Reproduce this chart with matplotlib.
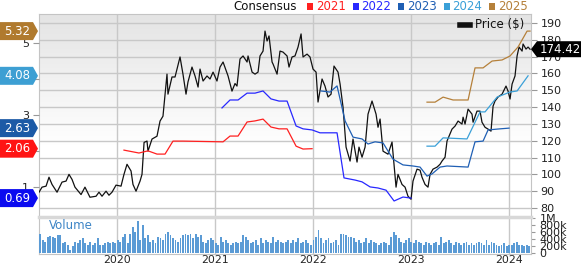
import numpy as np
import matplotlib
matplotlib.use('Agg')
import matplotlib.pyplot as plt
from matplotlib.patches import Polygon
from matplotlib.lines import Line2D
from matplotlib.colors import LinearSegmentedColormap

# Price data (decimal years, $)
PRICE_T = [2019.204, 2019.235, 2019.276, 2019.306, 2019.337, 2019.388, 2019.439, 2019.480, 2019.510, 2019.541,
           2019.571, 2019.633, 2019.673, 2019.724, 2019.786, 2019.816, 2019.847, 2019.888, 2019.918, 2019.949,
           2019.990, 2020.041, 2020.071, 2020.102, 2020.143, 2020.163, 2020.194, 2020.235, 2020.255, 2020.276,
           2020.306, 2020.316, 2020.357, 2020.408, 2020.439, 2020.469, 2020.510, 2020.520, 2020.561, 2020.592,
           2020.643, 2020.673, 2020.704, 2020.724, 2020.765, 2020.796, 2020.827, 2020.847, 2020.878, 2020.918,
           2020.949, 2020.980, 2021.020, 2021.051, 2021.082, 2021.133, 2021.173, 2021.204, 2021.224, 2021.255,
           2021.286, 2021.327, 2021.337, 2021.378, 2021.408, 2021.439, 2021.459, 2021.490, 2021.510, 2021.531,
           2021.551, 2021.582, 2021.592, 2021.633, 2021.663, 2021.694, 2021.735, 2021.755, 2021.786, 2021.816,
           2021.847, 2021.878, 2021.898, 2021.939, 2021.969, 2022.000, 2022.031, 2022.051, 2022.092, 2022.122,
           2022.153, 2022.184, 2022.214, 2022.255, 2022.276, 2022.306, 2022.337, 2022.378, 2022.408, 2022.449,
           2022.469, 2022.500, 2022.531, 2022.561, 2022.602, 2022.643, 2022.663, 2022.684, 2022.714, 2022.765,
           2022.806, 2022.847, 2022.867, 2022.908, 2022.939, 2022.969, 2023.000, 2023.020, 2023.061, 2023.092,
           2023.112, 2023.143, 2023.173, 2023.194, 2023.224, 2023.265, 2023.296, 2023.316, 2023.347, 2023.367,
           2023.418, 2023.449, 2023.480, 2023.520, 2023.531, 2023.551, 2023.582, 2023.622, 2023.633, 2023.673,
           2023.704, 2023.724, 2023.755, 2023.786, 2023.816, 2023.837, 2023.857, 2023.888, 2023.929, 2023.969,
           2023.990, 2024.010, 2024.031, 2024.061, 2024.082, 2024.102, 2024.133, 2024.143, 2024.173, 2024.194,
           2024.214]
PRICE = [89.4, 92.4, 93.0, 98.3, 94.0, 89.4, 95.4, 96.0, 100.0, 97.0,
         92.4, 88.0, 92.4, 86.4, 87.0, 89.4, 87.0, 90.0, 87.6, 89.4,
         93.6, 93.0, 100.0, 106.0, 102.0, 94.0, 90.0, 96.0, 100.0, 119.0,
         119.8, 113.8, 121.0, 122.7, 131.7, 134.6, 159.6, 147.7, 157.9, 157.9,
         169.8, 159.6, 147.7, 154.9, 163.8, 158.5, 151.9, 162.6, 155.5, 158.5,
         156.7, 160.8, 155.5, 163.8, 166.8, 158.5, 149.5, 154.0, 152.5, 168.6,
         170.4, 166.8, 170.4, 160.8, 159.6, 160.8, 170.4, 173.3, 185.2, 179.3,
         182.3, 166.8, 165.6, 159.6, 173.3, 172.7, 170.4, 163.8, 169.8, 170.4,
         175.7, 183.5, 169.8, 171.5, 169.8, 162.6, 160.8, 143.0, 156.7, 152.5,
         146.0, 147.7, 164.4, 160.8, 153.7, 140.0, 116.2, 107.9, 121.0, 107.3,
         116.2, 110.2, 116.2, 135.8, 143.6, 135.8, 128.0, 132.9, 113.8, 112.0,
         119.2, 92.4, 100.0, 94.0, 92.4, 87.0, 85.2, 96.0, 103.1, 102.5,
         98.3, 94.0, 92.4, 100.0, 103.1, 104.3, 106.0, 107.9, 110.2, 119.8,
         126.9, 128.7, 131.7, 129.9, 134.0, 129.9, 138.8, 135.8, 131.0, 137.6,
         137.6, 131.0, 128.0, 126.9, 125.7, 140.6, 143.6, 146.0, 147.7, 152.5,
         149.5, 144.8, 153.7, 158.5, 170.4, 175.7, 173.3, 177.5, 174.5, 175.7,
         174.42]

# Consensus EPS estimates per fiscal year
EPS_2021_T = [2020.071, 2020.224, 2020.316, 2020.408, 2020.490, 2020.571, 2020.673, 2021.082, 2021.153, 2021.235,
              2021.327, 2021.408, 2021.490, 2021.571, 2021.653, 2021.735, 2021.827, 2021.898, 2021.990]
EPS_2021 = [2.02, 1.94, 2.00, 1.91, 1.91, 2.27, 2.27, 2.25, 2.41, 2.41,
            2.80, 2.83, 2.88, 2.66, 2.61, 2.61, 2.13, 2.05, 2.06]
EPS_2022_T = [2021.071, 2021.153, 2021.235, 2021.327, 2021.408, 2021.490, 2021.571, 2021.653, 2021.735, 2021.827,
              2021.898, 2021.990, 2022.071, 2022.245, 2022.316, 2022.429, 2022.500, 2022.582, 2022.663, 2022.745,
              2022.827, 2022.918, 2023.000]
EPS_2022 = [3.19, 3.41, 3.41, 3.60, 3.60, 3.66, 3.44, 3.38, 3.38, 2.69,
            2.61, 2.58, 2.50, 2.50, 1.25, 1.19, 1.14, 1.00, 0.97, 0.91,
            0.61, 0.72, 0.69]
EPS_2023_T = [2022.082, 2022.173, 2022.245, 2022.327, 2022.408, 2022.500, 2022.561, 2022.633, 2022.714, 2022.816,
              2022.918, 2023.020, 2023.092, 2023.163, 2023.214, 2023.296, 2023.367, 2023.582, 2023.653, 2023.735,
              2023.786, 2023.908, 2024.000]
EPS_2023 = [3.66, 3.63, 3.80, 2.83, 2.38, 2.33, 2.19, 2.25, 2.22, 1.77,
            1.61, 1.58, 1.55, 1.30, 1.36, 1.55, 1.58, 1.55, 2.25, 2.27,
            2.58, 2.61, 2.63]
EPS_2024_T = [2023.163, 2023.245, 2023.327, 2023.571, 2023.704, 2023.755, 2023.878, 2024.010, 2024.082, 2024.194]
EPS_2024 = [2.13, 2.13, 2.36, 2.33, 3.08, 3.08, 3.49, 3.63, 3.66, 4.08]
EPS_2025_T = [2023.163, 2023.245, 2023.327, 2023.429, 2023.582, 2023.653, 2023.735, 2023.827, 2023.929, 2024.010,
              2024.092, 2024.184, 2024.214]
EPS_2025 = [3.35, 3.35, 3.49, 3.41, 3.41, 4.30, 4.30, 4.49, 4.52, 4.63,
            4.88, 5.32, 5.32]

YEARS = ['2021', '2022', '2023', '2024', '2025']
YEAR_COLORS = ['#ff2020', '#2828ff', '#1f5fb4', '#3aa0d8', '#b5803a']
BADGE_COLORS = ['#ff1414', '#0a0af0', '#1c5aa6', '#3d9fd3', '#b07a2e']
BADGE_LABELS = ['2.06', '0.69', '2.63', '4.08', '5.32']

# Weekly-ish volume (thousands)
VOLUME = [556, 370, 324, 463, 481, 463, 417, 509, 509, 278, 324, 231, 93, 185, 324, 278,
          370, 417, 278, 231, 324, 231, 278, 417, 231, 231, 278, 324, 278, 324, 278, 370,
          324, 463, 556, 278, 556, 741, 602, 926, 370, 787, 417, 509, 324, 370, 278, 463,
          417, 370, 556, 602, 509, 417, 370, 324, 417, 509, 556, 509, 556, 417, 556, 463,
          509, 324, 278, 370, 417, 370, 278, 231, 463, 324, 370, 278, 231, 278, 324, 278,
          324, 509, 463, 370, 278, 324, 370, 231, 417, 278, 370, 324, 278, 463, 324, 370,
          324, 278, 324, 370, 278, 370, 324, 417, 278, 324, 370, 278, 231, 370, 463, 648,
          417, 278, 370, 417, 278, 324, 370, 231, 556, 556, 509, 463, 463, 417, 324, 370,
          278, 324, 417, 278, 370, 324, 278, 231, 278, 324, 278, 231, 463, 602, 509, 417,
          324, 278, 370, 417, 324, 278, 370, 324, 278, 231, 324, 278, 231, 278, 324, 231,
          463, 278, 324, 370, 278, 231, 324, 278, 231, 278, 324, 231, 278, 231, 278, 324,
          278, 231, 370, 231, 324, 278, 231, 185, 231, 278, 185, 231, 231, 278, 324, 231,
          231, 185, 231, 204]
VOL_START, VOL_END = 2019.215, 2024.205

X_MIN, X_MAX = 2019.204, 2024.224
YEAR_TICKS = [2020, 2021, 2022, 2023, 2024]

W, H = 581, 265
plt.rcParams['font.family'] = 'DejaVu Sans'

fig = plt.figure(figsize=(W / 100, H / 100), dpi=100)

# price panel (pixel box: left 39, right 531, top 14, bottom 217)
ax = fig.add_axes([39 / W, (H - 217) / H, 492 / W, 203 / H])
ax2 = ax.twinx()  # consensus EPS, ticks on the left

ax.set_xlim(X_MIN, X_MAX)
ax.set_ylim(74.65, 195.35)
grad = np.linspace(0, 1, 200).reshape(-1, 1)
grad = np.clip((grad - 0.35) / 0.65, 0, 1)
ax.imshow(grad, extent=[0, 1, 0, 1], transform=ax.transAxes, aspect='auto',
          cmap=LinearSegmentedColormap.from_list('bg', ['#ffffff', '#e4e4e4']),
          origin='lower', zorder=0)
ax.set_yticks(np.arange(80, 191, 10))
ax.set_xticks(YEAR_TICKS)
ax.grid(True, color='#c8c8c8', linewidth=1.0, zorder=1)
ax.set_axisbelow(True)
ax.tick_params(axis='x', length=0, labelbottom=False)
for s in ax.spines.values():
    s.set_color('#c4c4c4')
ax.plot(PRICE_T, PRICE, color='#111111', linewidth=0.9, zorder=5)

ax2.set_ylim(0.166, 5.794)
ax2.set_xlim(X_MIN, X_MAX)
ax2.set_yticks([1, 2, 3, 4, 5])
for s in ax2.spines.values():
    s.set_visible(False)
series = [(EPS_2021_T, EPS_2021), (EPS_2022_T, EPS_2022), (EPS_2023_T, EPS_2023),
          (EPS_2024_T, EPS_2024), (EPS_2025_T, EPS_2025)]
for (t, v), c in zip(series, YEAR_COLORS):
    ax2.plot(t, v, color=c, linewidth=0.9)

# twinx moves the original ticks to the left, so set sides after it
ax.yaxis.tick_right()
ax2.yaxis.tick_left()
for a in (ax, ax2):
    a.tick_params(axis='y', direction='out', length=4, color='#999999', labelsize=8, pad=3,
                  labelcolor='#222222')

# volume panel
axv = fig.add_axes([39 / W, (H - 254) / H, 492 / W, 37 / H])
axv.set_xlim(X_MIN, X_MAX)
axv.set_ylim(-30, 1030)
vol_t = np.linspace(VOL_START, VOL_END, len(VOLUME))
axv.bar(vol_t, VOLUME, width=(VOL_END - VOL_START) / len(VOLUME) * 0.75, color='#5b9bd5',
        edgecolor='none', zorder=3)
axv.set_xticks(YEAR_TICKS)
axv.set_xticklabels([str(y) for y in YEAR_TICKS])
axv.grid(True, axis='x', color='#c8c8c8', linewidth=1.0, zorder=1)
axv.set_axisbelow(True)
axv.yaxis.tick_right()
axv.set_yticks([0, 200, 400, 600, 800, 1000])
axv.set_yticklabels(['0', '200k', '400k', '600k', '800k', '1M'])
axv.tick_params(axis='y', direction='out', length=3, color='#999999', labelsize=8, pad=3,
                labelcolor='#222222')
axv.tick_params(axis='x', length=0, labelsize=7.8, pad=1, labelcolor='#222222')
for s in axv.spines.values():
    s.set_color('#c4c4c4')
axv.spines['top'].set_color('#d8d8d8')
axv.spines['top'].set_linewidth(2.5)
axv.text(0.02, 0.76, 'Volume', transform=axv.transAxes, color='#3d85c6', fontsize=8.5, va='center')

# overlay in pixel coordinates for badges and the header legend
ov = fig.add_axes([0, 0, 1, 1], zorder=10)
ov.set_xlim(0, W)
ov.set_ylim(0, H)
ov.axis('off')


def left_badge(y, label, color):
    ov.add_patch(Polygon([(0, y - 9), (33, y - 9), (38, y), (33, y + 9), (0, y + 9)],
                         closed=True, facecolor=color, edgecolor='none'))
    ov.text(17, y, label, color='white', fontsize=8.5, ha='center', va='center')


last_vals = [EPS_2021[-1], EPS_2022[-1], EPS_2023[-1], EPS_2024[-1], EPS_2025[-1]]
for val, lab, c in zip(last_vals, BADGE_LABELS, BADGE_COLORS):
    yd = ax2.transData.transform((X_MAX, val))[1]
    left_badge(yd, lab, c)

yp = ax.transData.transform((X_MAX, PRICE[-1]))[1]
ov.add_patch(Polygon([(531, yp), (537, yp - 8), (581, yp - 8), (581, yp + 8), (537, yp + 8)],
                     closed=True, facecolor='black', edgecolor='none'))
ov.text(560, yp, f'{PRICE[-1]:.2f}', color='white', fontsize=8.5, ha='center', va='center')

# header legend
ov.text(233, H - 6, 'Consensus', fontsize=8.5, va='center', color='#111111')
for i, (yr, c) in enumerate(zip(YEARS, YEAR_COLORS)):
    x0 = 307 + i * 45.5
    ov.add_patch(Polygon([(x0, H - 10), (x0 + 6, H - 10), (x0 + 6, H - 3), (x0, H - 3)],
                         closed=True, facecolor=c, edgecolor='none'))
    ov.text(x0 + 9, H - 6, yr, fontsize=8.5, va='center', color=c)

# price legend inside the plot
ov.add_line(Line2D([460, 470], [H - 25, H - 25], color='#111111', linewidth=4))
ov.text(475, H - 25, 'Price ($)', fontsize=8.5, va='center', color='#111111')

fig.savefig('out.png', dpi=100)
